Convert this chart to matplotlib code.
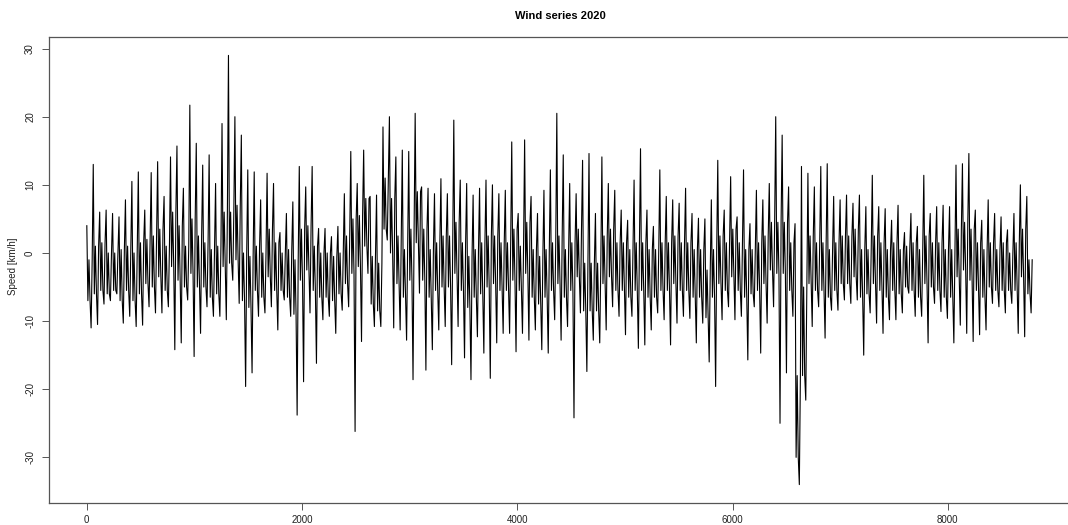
import numpy as np
import matplotlib
matplotlib.use("Agg")
import matplotlib.pyplot as plt

plt.rcParams['font.family'] = ['Liberation Sans', 'DejaVu Sans']

# hourly wind series 2020 in 60 h blocks:
# highest peak, lowest trough and the edges of the dense band in each block
peak_hi = [4, 13, 6, 6.3, 5.8, 5.3, 7.8, 10.5, 11.9, 6.3,
           11.8, 13.4, 8.3, 14.1, 15.7, 9.5, 21.7, 16.1, 12.9, 14.4,
           10.2, 19, 29, 20, 17.3, 12.2, 11.9, 7.8, 11.7, 10.2,
           3, 5.8, 7.5, 12.7, 9.7, 12.7, 3.6, 3.6, 2.4, 3.9,
           8.7, 14.9, 10.2, 15.1, 8.3, 8.5, 18.5, 20, 14.1, 15.1,
           14.9, 20.5, 9.7, 9.5, 8.7, 10.9, 8.7, 19.5, 10.7, 10.2,
           8.5, 9.5, 10.7, 10, 8.7, 9.2, 16.3, 5.8, 16.6, 8.3,
           5.8, 9.2, 12.2, 20.5, 14.4, 10.2, 8.7, 13.6, 14.6, 5.8,
           14.1, 10.2, 9.2, 6.3, 4.8, 10.7, 15.3, 6.3, 3.9, 12.2,
           8.3, 7.8, 7.3, 9.5, 5.8, 5.1, 5, 7.8, 13.6, 6.3,
           11.2, 5.3, 12.2, 4.3, 9.2, 7.8, 10.2, 20, 17.3, 9.7,
           4.3, 12.7, 11.7, 9.7, 12.7, 13.1, 8.3, 7.8, 8.5, 7.3,
           8.5, 6.8, 11.4, 6.8, 6.5, 4.8, 7, 3, 5.8, 3.9,
           11.4, 5.8, 6.8, 7, 6.8, 12.9, 13.1, 14.6, 6.3, 4.8,
           7.8, 5.8, 5.3, 3.4, 5.8, 10, 8.3]

trough_lo = [-11, -10.5, -7.5, -7, -6, -10.3, -9.3, -10.8, -10.6, -7.9,
             -8.8, -8.8, -7.9, -14.2, -13.2, -6.9, -15.2, -11.8, -7.9, -9.3,
             -9.3, -9.8, -4, -7.4, -19.6, -17.6, -9.3, -8.8, -7.9, -11.3,
             -6.9, -9.3, -23.8, -18.9, -8.8, -16.2, -9.8, -9.3, -11.8, -8.4,
             -7.9, -26.2, -13, -3, -10.8, -10.8, 1.9, -11, -11.3, -12.8,
             -18.6, -5.9, -17.2, -14.2, -11.3, -10.8, -16.4, -10.8, -15.4, -18.6,
             -12.3, -14.7, -18.4, -13.2, -11.8, -11.8, -14.5, -11.8, -12.8, -11.3,
             -14.2, -14.7, -9.8, -12.8, -10.8, -24.2, -8.8, -17.4, -12.8, -13.2,
             -11.3, -7.9, -9.3, -12, -9.3, -14, -13.5, -11.3, -8.8, -9.8,
             -13.5, -10.3, -9.3, -9.6, -13.2, -10.3, -16, -19.6, -9.8, -7.9,
             -9.8, -9.3, -15.7, -7.9, -14.7, -10.3, -7.9, -25, -17.6, -9.3,
             -34, -21.6, -10.8, -7.9, -12.5, -8.4, -8.4, -6.9, -7.4, -6.9,
             -15, -8.8, -10.3, -11.8, -9.8, -9.8, -8.8, -5.9, -9.3, -9.3,
             -13.2, -7.4, -8.6, -9.6, -13.2, -10.6, -11.8, -13, -12, -11.3,
             -7.4, -7.9, -8.8, -7.4, -11.8, -12.3, -8.8]

band_hi = [-1, 1, 1.5, 0, 0, 0.5, 1, 0, 1.5, 2,
           2.5, 3.5, 1, 6, 4, 1, 5, 2.5, 1.5, 0.5,
           1, 6, 6, 7, 0, -0.5, 1, 0, 3.5, 1.5,
           0, 0.5, -1, 3.5, 4, 1, 0, 0, -0.5, 0,
           2.5, 5, 5.5, 8, -0.5, -1.5, 11, 8, 2.5, 0.5,
           3.5, 9, 3.5, 0.5, 1.5, 2.5, 2.5, 4.5, 1.5, -0.5,
           0.5, 1.5, 2.5, 2.5, 1.5, 1.5, 3.5, 1, 4.5, 0.5,
           -0.5, 0.5, 1.5, 2.5, 0.5, 1.5, 3.5, -1.5, -1.5, -1.5,
           2.5, 3.5, 1.5, 1.5, 0.5, 1.5, 1.5, 0.5, 0.5, 1.5,
           1.5, 2.5, 1.5, 1.5, 0.5, 0.5, -2.5, 0.5, 2.5, 1.5,
           3.5, 1.5, 0.5, 0.5, 1.5, 2.5, 4.5, 4.5, 4.5, 1.5,
           -18, -5, 2.5, 1.5, 1.5, 0.5, 1.5, 2.5, 2.5, 3.5,
           0.5, 0.5, 2.5, 1.5, 0.5, 1.5, 0.5, 1, 1.5, 0.5,
           2.5, 1.5, 1.5, 0.5, 0.5, 3.5, 4.5, 3.5, 1.5, 0.5,
           1.5, 0.5, 1.5, 0, 1.5, 3.5, -1]

band_lo = [-7, -6, -5.5, -6, -5.5, -7, -5.5, -7, -6, -4.5,
           -5, -3.5, -5.5, -2, -4, -5, -3, -5, -5, -6.5,
           -6, -2, -1.5, -1, -7, -8, -5.5, -6.5, -3.5, -5.5,
           -5.5, -6.5, -9, -4, -2.5, -5.5, -6.5, -6.5, -7, -6,
           -4.5, -3, -2, 1, -7.5, -8.5, 3.5, 0, -4.5, -6.5,
           -4, 1.5, -4, -6.5, -5.5, -5, -5, -3, -5.5, -8,
           -6.5, -6, -5, -4.5, -5.5, -5.5, -4, -5.5, -3, -6.5,
           -7.5, -6.5, -5.5, -4.5, -6.5, -5.5, -3.5, -8.5, -8.5, -8.5,
           -4.5, -3.5, -5.5, -5.5, -6.5, -5.5, -5.5, -6.5, -6.5, -5.5,
           -5.5, -4.5, -5.5, -5.5, -6.5, -6.5, -9.5, -6.5, -4.5, -5.5,
           -3.5, -5.5, -6.5, -6, -5.5, -4.5, -2.5, -3, -3, -5.5,
           -30, -18, -4.5, -5.5, -5.5, -6.5, -5.5, -4.5, -4.5, -3.5,
           -6.5, -6, -4.5, -5.5, -6.5, -5.5, -6, -5, -5.5, -6.5,
           -4.5, -5, -5.5, -6.5, -6.5, -3.5, -2.5, -4, -5.5, -6.5,
           -5, -5.5, -5.5, -5.5, -5.5, -3.5, -6]

n_hours = 8784
x_ticks = [0, 2000, 4000, 6000, 8000]
y_ticks = [-30, -20, -10, 0, 10, 20, 30]

# one block: peak, a swing through the band, trough, back up
speed = np.column_stack([peak_hi, band_lo, band_hi, band_lo,
                         trough_lo, band_hi]).ravel()
hours = np.linspace(1, n_hours, len(speed))

fig = plt.figure(figsize=(10.68, 5.25), dpi=100)
ax = fig.add_axes([49 / 1068, 22 / 525, 1021 / 1068, 466 / 525])
ax.plot(hours, speed, color='black', lw=0.8)

pad_x = 0.04 * (n_hours - 1)
ax.set_xlim(1 - pad_x, n_hours + pad_x)
ax.set_ylim(-36.7, 31.7)
ax.set_xticks(x_ticks)
ax.set_yticks(y_ticks)
ax.set_yticklabels([str(v) for v in y_ticks], rotation=90, va='center')
ax.tick_params(axis='both', direction='out', length=5, width=0.7,
               color='#555555', labelsize=7, labelcolor='#222222', pad=3.5)
ax.tick_params(axis='y', pad=5)
for sp in ax.spines.values():
    sp.set_color('#555555')
    sp.set_linewidth(0.9)

fig.text(560 / 1068, 1 - 16 / 525, 'Wind series 2020', ha='center',
         va='center', fontsize=8, fontweight='bold')
fig.text(13 / 1068, 1 - 266 / 525, 'Speed [km/h]', ha='center',
         va='center', rotation=90, fontsize=7, color='#222222')

fig.savefig('out.png', dpi=100)
